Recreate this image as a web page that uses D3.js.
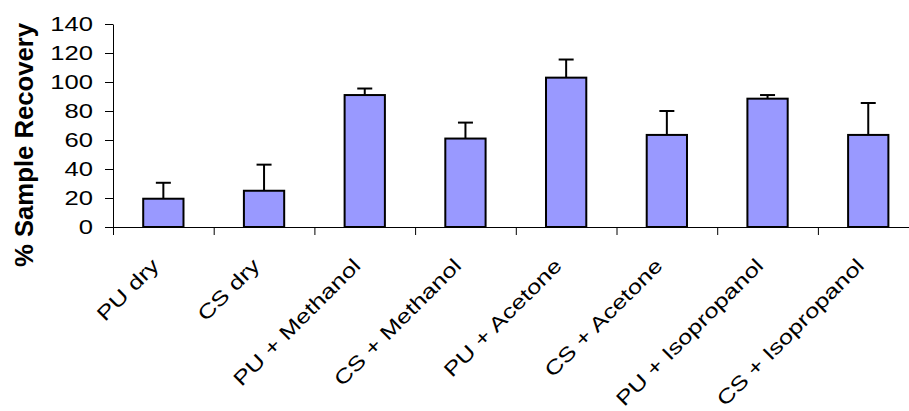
<!DOCTYPE html>
<html>
<head>
<meta charset="utf-8">
<script src="https://cdn.jsdelivr.net/npm/d3@7"></script>
<style>
  body { margin: 0; background: #fff; }
  text { font-family: "Liberation Sans", Arial, sans-serif; fill: #000; }
</style>
</head>
<body>
<div id="chart-area"></div>
<script>
// values
const categories = ["PU dry", "CS dry", "PU + Methanol", "CS + Methanol",
    "PU + Acetone", "CS + Acetone", "PU + Isopropanol", "CS + Isopropanol"];
const recovery = [19.5, 25, 91, 61, 103, 63.5, 88.5, 63.5];
const errorUp = [11, 18, 4.5, 11, 12.5, 16.5, 2.5, 22];
const yTicks = [0, 20, 40, 60, 80, 100, 120, 140];
const yLabel = "% Sample Recovery";

const width = 909, height = 411;
const margins = { top: 24, left: 113 };
const step = 100.7,
    plotHeight = 203,
    axisY = margins.top + plotHeight;
const stretch = 1.28; // the original fonts are drawn wide

const rows = categories.map((c, i) => ({ name: c, value: recovery[i], err: errorUp[i] }));

const svg = d3.select("#chart-area")
    .append("svg")
    .attr("width", width)
    .attr("height", height)
    .style("display", "block");

const scaleX = d3.scaleBand()
    .domain(categories)
    .range([margins.left, margins.left + step * categories.length])
    .paddingInner(0.6)
    .paddingOuter(0.3);
const scaleEdge = d3.scaleLinear()
    .domain([0, categories.length])
    .range([margins.left, margins.left + step * categories.length]);
const scaleY = d3.scaleLinear().domain([0, 140]).range([axisY, margins.top]);

// bars
svg.append("g")
    .attr("class", "bars")
    .selectAll("rect")
    .data(rows)
    .enter().append("rect")
    .attr("x", d => scaleX(d.name))
    .attr("y", d => scaleY(d.value))
    .attr("width", scaleX.bandwidth())
    .attr("height", d => scaleY(0) - scaleY(d.value))
    .attr("fill", "#9999ff")
    .attr("stroke", "#000")
    .attr("stroke-width", 2);

// error bars (upper only)
const errs = svg.append("g")
    .attr("class", "errors")
    .attr("stroke", "#000")
    .attr("stroke-width", 2)
    .selectAll("g")
    .data(rows)
    .enter().append("g")
    .attr("transform", d => `translate(${scaleX(d.name) + scaleX.bandwidth() / 2},0)`);

errs.append("line")
    .attr("y1", d => scaleY(d.value))
    .attr("y2", d => scaleY(d.value + d.err));

errs.append("line")
    .attr("x1", -7.5)
    .attr("x2", 7.5)
    .attr("y1", d => scaleY(d.value + d.err))
    .attr("y2", d => scaleY(d.value + d.err));

// y axis
const yAxis = svg.append("g")
    .attr("class", "y-axis")
    .attr("transform", `translate(${margins.left},0)`)
    .call(d3.axisLeft(scaleY).tickValues(yTicks).tickSize(8).tickSizeOuter(0));

yAxis.selectAll("path, line").attr("stroke", "#000");
yAxis.selectAll("text")
    .attr("x", null)
    .attr("font-size", 20)
    .attr("font-family", "'Liberation Sans', Arial, sans-serif")
    .attr("transform", `translate(-20,0) scale(${stretch},1)`);

// x axis: ticks sit on the category edges
const xAxis = svg.append("g")
    .attr("class", "x-axis")
    .attr("transform", `translate(0,${axisY})`)
    .call(d3.axisBottom(scaleEdge)
        .tickValues(d3.range(categories.length + 1))
        .tickSize(8)
        .tickSizeOuter(0)
        .tickFormat(""));

xAxis.selectAll("path, line").attr("stroke", "#000");

svg.append("g")
    .attr("class", "x-labels")
    .selectAll("text")
    .data(categories)
    .enter().append("text")
    .attr("text-anchor", "end")
    .attr("font-size", 20)
    .attr("transform", d => `translate(${scaleX(d) + scaleX.bandwidth() / 2 - 3},${axisY + 40}) rotate(-45) scale(${stretch},1)`)
    .text(d => d);

svg.append("text")
    .attr("class", "y-label")
    .attr("transform", `translate(33,${margins.top + 121}) rotate(-90)`)
    .attr("text-anchor", "middle")
    .attr("font-size", 25)
    .attr("font-weight", "bold")
    .attr("textLength", 244)
    .attr("lengthAdjust", "spacingAndGlyphs")
    .text(yLabel);
</script>
</body>
</html>
